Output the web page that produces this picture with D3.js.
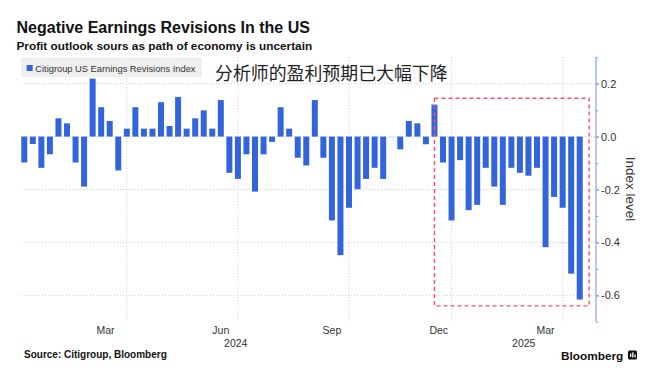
<!DOCTYPE html>
<html><head><meta charset="utf-8">
<script src="https://cdn.jsdelivr.net/npm/d3@7"></script>
<style>body{margin:0;background:#fff} svg{display:block}</style>
</head><body><svg id="c" width="669" height="381"></svg>
<script>
// ---- data ----
const dates = [
 "2024-01-12","2024-01-19","2024-01-26","2024-02-02","2024-02-09","2024-02-16","2024-02-23","2024-03-01","2024-03-08","2024-03-15",
 "2024-03-22","2024-03-29","2024-04-05","2024-04-12","2024-04-19","2024-04-26","2024-05-03","2024-05-10","2024-05-17","2024-05-24",
 "2024-05-31","2024-06-07","2024-06-14","2024-06-21","2024-06-28","2024-07-05","2024-07-12","2024-07-19","2024-07-26","2024-08-02",
 "2024-08-09","2024-08-16","2024-08-23","2024-08-30","2024-09-06","2024-09-13","2024-09-20","2024-09-27","2024-10-04","2024-10-11",
 "2024-10-18","2024-10-25","2024-11-01","2024-11-08","2024-11-15","2024-11-22","2024-11-29","2024-12-06","2024-12-13","2024-12-20",
 "2025-01-03","2025-01-10","2025-01-17","2025-01-24","2025-01-31","2025-02-07","2025-02-14","2025-02-21","2025-02-28","2025-03-07",
 "2025-03-14","2025-03-21","2025-03-28","2025-04-04","2025-04-11","2025-04-18"
];
const values = [
 -0.098,-0.028,-0.118,-0.067,0.069,0.050,-0.098,-0.189,0.219,0.111,
 0.059,-0.128,0.030,0.111,0.030,0.030,0.130,0.040,0.150,0.030,
 0.069,0.099,0.030,0.138,-0.137,-0.160,-0.067,-0.208,-0.067,-0.020,
 0.111,0.030,-0.080,-0.109,0.138,-0.080,-0.317,-0.448,-0.269,-0.199,
 -0.160,-0.118,-0.160,-0.004,-0.048,0.059,0.050,-0.029,0.121,-0.098,
 -0.317,-0.089,-0.278,-0.258,-0.118,-0.189,-0.258,-0.118,-0.137,-0.148,
 -0.118,-0.418,-0.228,-0.269,-0.518,-0.616
];
const yMajorTicks = [0.2, 0.0, -0.2, -0.4, -0.6];
const yMinorTicks = [0.3, 0.1, -0.1, -0.3, -0.5, -0.7];
const monthLabels = ["Mar", "Jun", "Sep", "Dec", "Mar"];
const monthStarts = ["2024-03-01", "2024-06-01", "2024-09-01", "2024-12-01", "2025-03-01"];
const monthEnds   = ["2024-04-01", "2024-07-01", "2024-10-01", "2025-01-01", "2025-04-01"];
const yearLabels = ["2024", "2025"];
const yearBoundary = "2025-01-01";
const highlightStart = "2024-12-13";
const highlightTop = 0.145, highlightBottom = -0.64;

const titleText = "Negative Earnings Revisions In the US";
const subtitleText = "Profit outlook sours as path of economy is uncertain";
const seriesName = "Citigroup US Earnings Revisions Index";
const annotationText = "分析师的盈利预期已大幅下降";
const yTitle = "Index level";
const sourceText = "Source: Citigroup, Bloomberg";

// ---- layout ----
const LAT = "'Liberation Sans', Arial, sans-serif";
const BLUE = "#3264dc";
const svg = d3.select("#c");
const pLeft = 20, pRight = 584, axisX = 596, pTop = 57.2, pBottom = 321.8;

const x = d3.scaleBand().domain(dates).range([pLeft, pRight]).paddingInner(0.3).paddingOuter(0.15);
const y = d3.scaleLinear().domain([-0.7, 0.3]).range([pBottom, pTop]);
const xc = d => x(d) + x.bandwidth() / 2;
const firstOnOrAfter = s => dates.find(d => d >= s);

// grid
const grid = svg.append("g").attr("stroke", "#cfcfcf").attr("stroke-width", 1).attr("stroke-dasharray", "1,2");
yMajorTicks.forEach(v => grid.append("line").attr("x1", 21).attr("x2", axisX).attr("y1", y(v)).attr("y2", y(v)));
monthEnds.forEach(m => {
  const gx = xc(firstOnOrAfter(m));
  grid.append("line").attr("x1", gx).attr("x2", gx).attr("y1", pTop).attr("y2", pBottom);
});

// bars
svg.append("g").selectAll("rect").data(values).join("rect")
  .attr("x", (v, i) => x(dates[i]))
  .attr("width", x.bandwidth())
  .attr("y", v => y(Math.max(0, v)))
  .attr("height", v => Math.max(0.8, Math.abs(y(v) - y(0))))
  .attr("fill", v => Math.abs(v) < 0.01 ? "#c9d6f6" : BLUE);

// highlight dashed box
const hx1 = xc(highlightStart);
const hx2 = x(dates[dates.length - 1]) + x.bandwidth() + x.step() * 0.75;
svg.append("rect").attr("x", hx1).attr("y", y(highlightTop))
  .attr("width", hx2 - hx1).attr("height", y(highlightBottom) - y(highlightTop))
  .attr("fill", "none").attr("stroke", "#ff4d6a").attr("stroke-width", 1.4).attr("stroke-dasharray", "4,3");

// right axis
const ax = svg.append("g").attr("transform", `translate(${axisX},0)`);
ax.append("line").attr("y1", pTop).attr("y2", pBottom).attr("stroke", "#6f93ee").attr("stroke-width", 1);
const minor = ax.append("g").call(d3.axisRight(y).tickValues(yMinorTicks).tickSize(2).tickFormat(""));
minor.select(".domain").remove();
minor.selectAll("line").attr("stroke", "#6f93ee");
const major = ax.append("g").call(d3.axisRight(y).tickValues(yMajorTicks).tickSize(3).tickPadding(2)
  .tickFormat(d => d3.format(".1f")(d).replace("−", "-")));
major.select(".domain").remove();
major.selectAll("line").attr("stroke", "#6f93ee").attr("stroke-width", 1.3);
major.selectAll("text").attr("font-family", LAT).attr("font-size", 11).attr("fill", "#333");

svg.append("text").attr("transform", `translate(626,189) rotate(90)`)
  .attr("text-anchor", "middle").attr("font-family", LAT).attr("font-size", 13.5).attr("fill", "#333").text(yTitle);

// x labels
monthLabels.forEach((lab, i) => {
  const a = xc(firstOnOrAfter(monthStarts[i])), b = xc(firstOnOrAfter(monthEnds[i]));
  svg.append("text").attr("x", (a + b) / 2).attr("y", 333.5).attr("text-anchor", "middle")
    .attr("font-family", LAT).attr("font-size", 10.5).attr("fill", "#333").text(lab);
});
const yb = xc(firstOnOrAfter(yearBoundary));
[[pLeft, yb], [yb, axisX]].forEach((r, i) => {
  svg.append("text").attr("x", (r[0] + r[1]) / 2).attr("y", 346.7).attr("text-anchor", "middle")
    .attr("font-family", LAT).attr("font-size", 10.5).attr("fill", "#333").text(yearLabels[i]);
});

// titles
svg.append("text").attr("x", 16.5).attr("y", 33.3).attr("font-family", LAT).attr("font-weight", "bold")
  .attr("font-size", 16).attr("fill", "#111").text(titleText);
svg.append("text").attr("x", 16.5).attr("y", 50).attr("font-family", LAT).attr("font-weight", "bold")
  .attr("font-size", 11.8).attr("fill", "#111").text(subtitleText);

// legend
svg.append("rect").attr("x", 21).attr("y", 57.5).attr("width", 181).attr("height", 19.5).attr("rx", 1.5).attr("fill", "#efefef");
svg.append("rect").attr("x", 26.7).attr("y", 65).attr("width", 6).attr("height", 6).attr("fill", BLUE);
svg.append("text").attr("x", 35.3).attr("y", 71.5).attr("font-family", LAT).attr("font-size", 9.3)
  .attr("fill", "#333").text(seriesName);

// annotation
svg.append("text").attr("x", 215).attr("y", 80).attr("font-family", "'Noto Sans CJK SC', sans-serif")
  .attr("font-size", 17.9).attr("fill", "#222").text(annotationText);

// source & logo
svg.append("text").attr("x", 24).attr("y", 358).attr("font-family", LAT).attr("font-weight", "bold")
  .attr("font-size", 10).attr("fill", "#111").text(sourceText);
svg.append("text").attr("x", 561).attr("y", 359.5).attr("font-family", LAT).attr("font-weight", "bold")
  .attr("font-size", 11.8).attr("fill", "#111").text("Bloomberg");
const logo = svg.append("g").attr("transform", "translate(628,350.5)");
logo.append("rect").attr("width", 9).attr("height", 9).attr("rx", 1.5).attr("fill", "#111");
[[2,3,3.5],[4.2,1.8,5.2],[6.4,4,2.8]].forEach(b => logo.append("rect").attr("x", b[0]).attr("y", b[1]).attr("width", 1.3).attr("height", b[2]).attr("fill", "#fff"));
</script></body></html>
